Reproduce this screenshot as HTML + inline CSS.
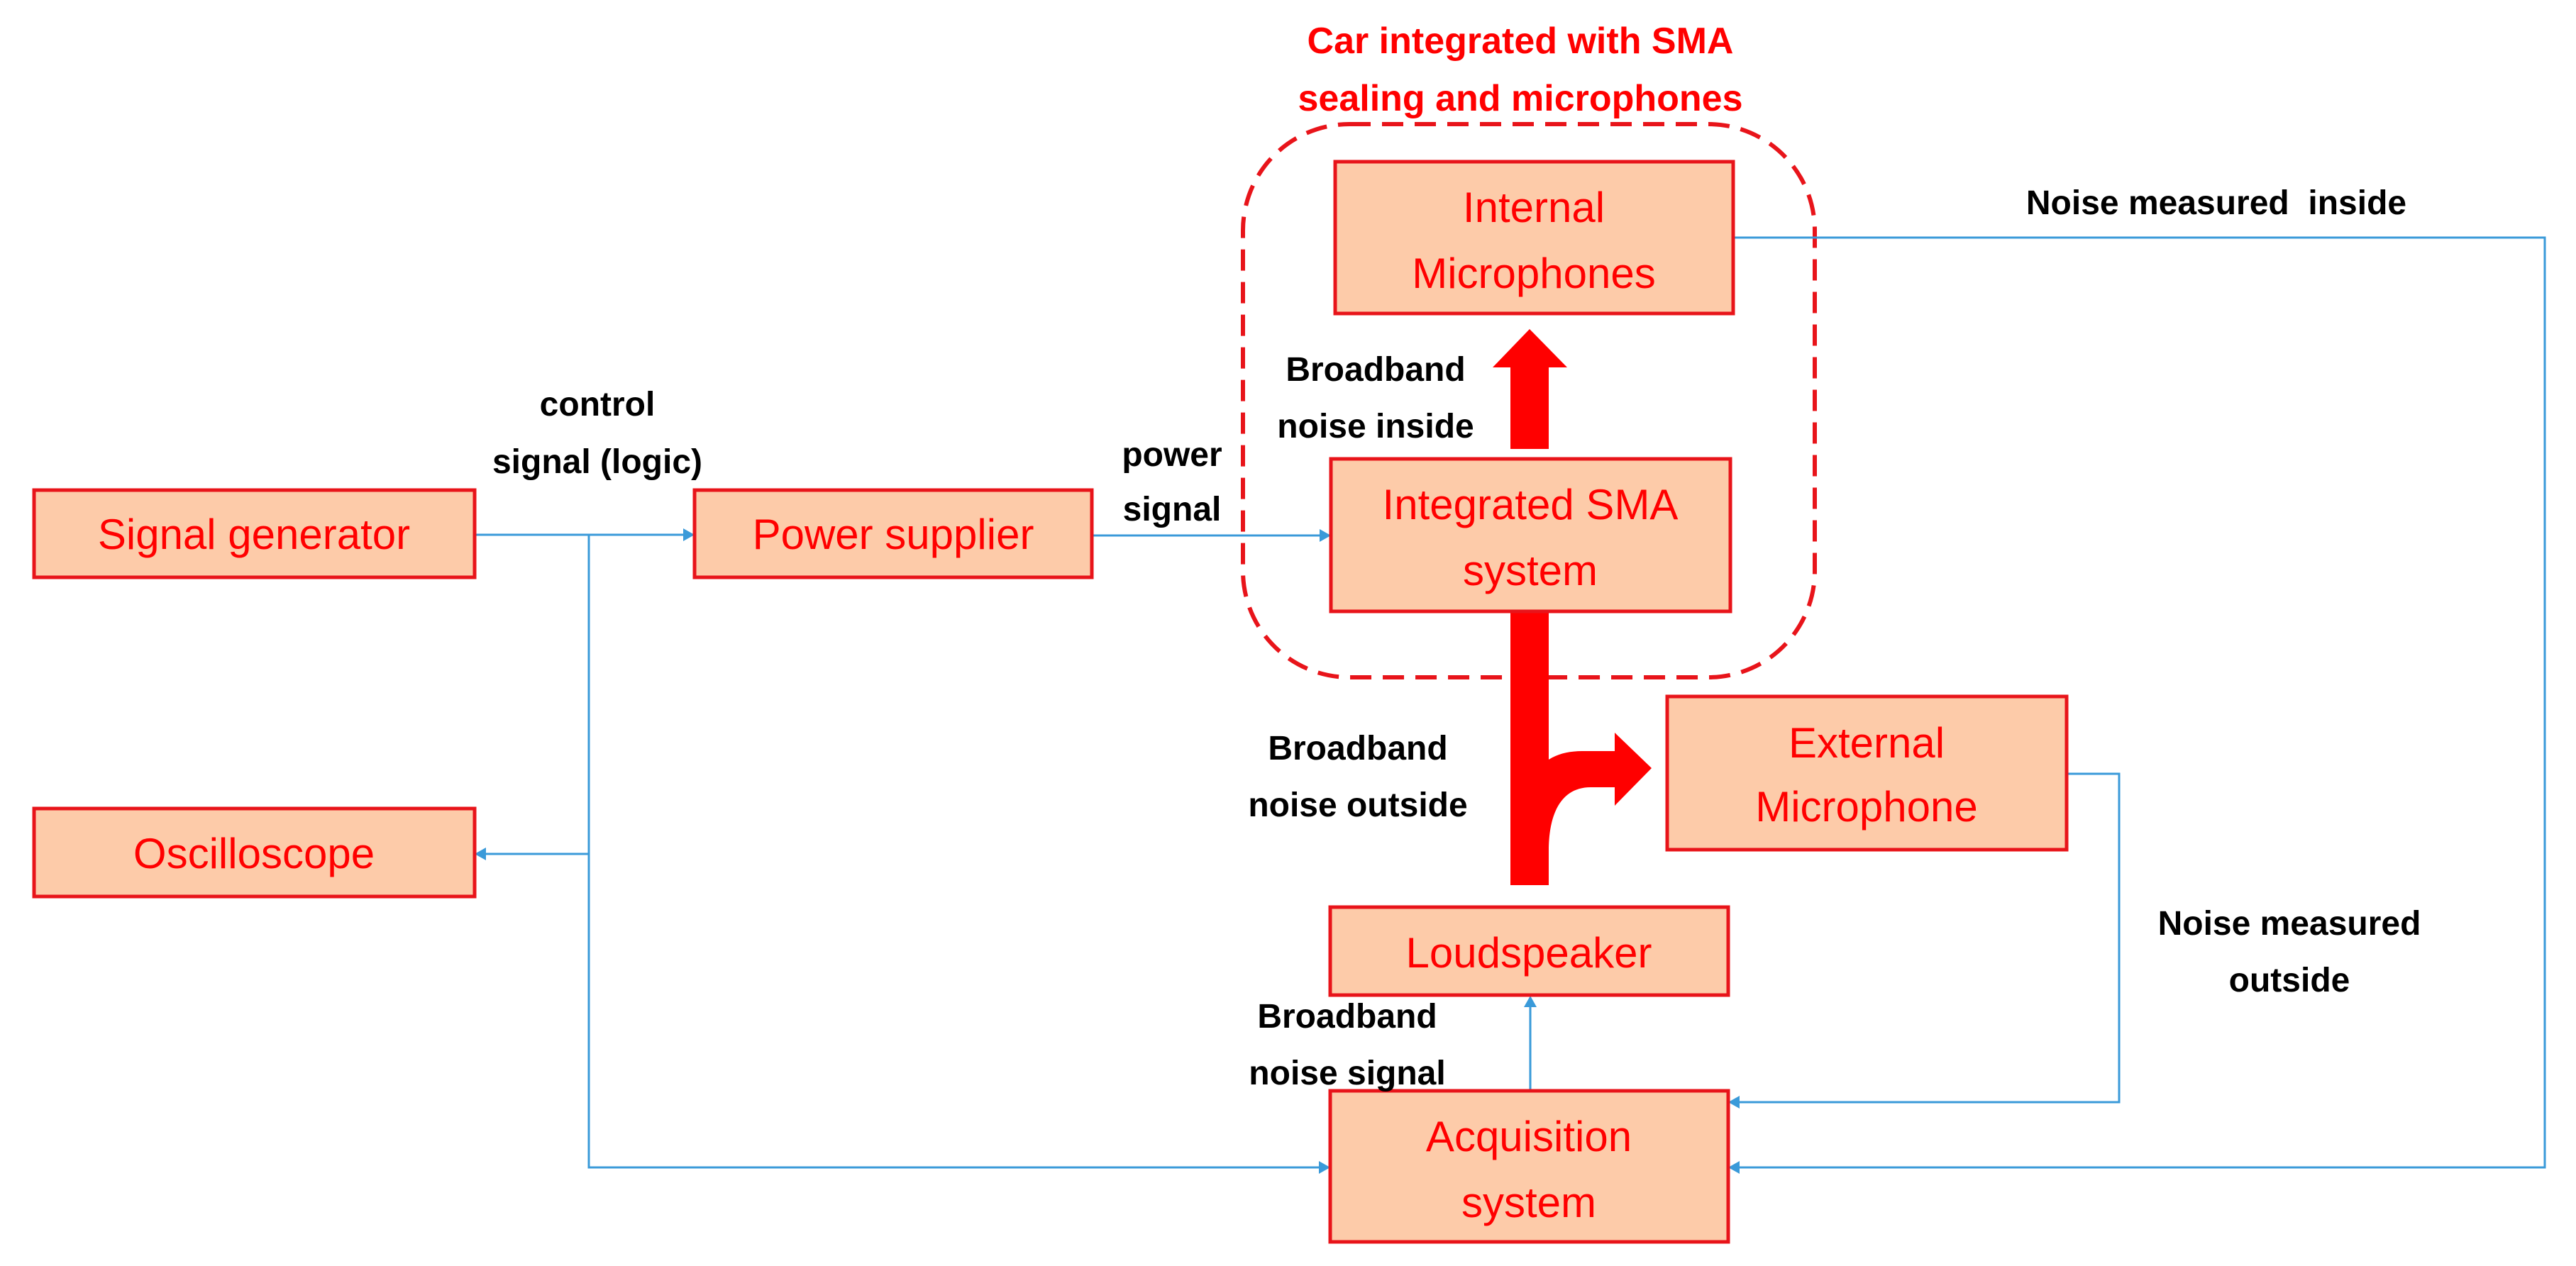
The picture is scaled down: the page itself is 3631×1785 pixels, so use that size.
<!DOCTYPE html>
<html><head><meta charset="utf-8"><style>
html,body{margin:0;padding:0;background:#fff;}
svg{display:block;}
.b{fill:#fdcba9;stroke:#e8141a;stroke-width:5;}
.r{font-family:"Liberation Sans",sans-serif;fill:#f00;font-size:60px;text-anchor:middle;}
.k{font-family:"Liberation Sans",sans-serif;fill:#000;font-size:48px;font-weight:bold;text-anchor:middle;}
.t{font-family:"Liberation Sans",sans-serif;fill:#f00;font-size:52px;font-weight:bold;text-anchor:middle;}
.l{stroke:#3a9ad9;stroke-width:3;fill:none;}
.a{fill:#3a9ad9;}
</style></head><body>
<svg width="3631" height="1785" viewBox="0 0 3631 1785" xmlns="http://www.w3.org/2000/svg">
<!-- title -->
<text class="t" x="2143" y="75">Car integrated with SMA</text>
<text class="t" x="2143" y="156">sealing and microphones</text>
<!-- dashed container -->
<rect x="1752" y="175" width="806" height="780" rx="150" fill="none" stroke="#e8141a" stroke-width="6" stroke-dasharray="30 16"/>

<!-- blue connectors -->
<path class="l" d="M669,754 H965"/>
<polygon class="a" points="979,754 963,745 963,763"/>
<path class="l" d="M830,754 V1646 H1862"/>
<polygon class="a" points="1875,1646 1859,1637 1859,1655"/>
<path class="l" d="M830,1204 H683"/>
<polygon class="a" points="669,1204 685,1195 685,1213"/>
<path class="l" d="M1539,755 H1862"/>
<polygon class="a" points="1876,755 1860,746 1860,764"/>
<path class="l" d="M2443,335 H3587 V1646 H2450"/>
<polygon class="a" points="2436,1646 2452,1637 2452,1655"/>
<path class="l" d="M2913,1091 H2987 V1554 H2450"/>
<polygon class="a" points="2436,1554 2452,1545 2452,1563"/>
<path class="l" d="M2157,1538 V1418"/>
<polygon class="a" points="2157,1404 2148,1420 2166,1420"/>

<!-- big red arrows -->
<polygon fill="#f00" points="2129,633 2129,518 2104,518 2156,464 2209,518 2183,518 2183,633"/>
<rect x="2129" y="860" width="54" height="388" fill="#f00"/>
<path fill="#f00" d="M2140,1190 C2140,1100 2170,1059 2230,1059 L2276,1059 L2276,1033 L2328,1083 L2276,1136 L2276,1110 L2242,1110 C2205,1110 2183,1140 2183,1200 Z"/>

<!-- boxes -->
<rect class="b" x="48" y="691" width="621" height="123"/>
<text class="r" x="358" y="774">Signal generator</text>
<rect class="b" x="979" y="691" width="560" height="123"/>
<text class="r" x="1259" y="774">Power supplier</text>
<rect class="b" x="48" y="1140" width="621" height="124"/>
<text class="r" x="358" y="1224">Oscilloscope</text>
<rect class="b" x="1882" y="228" width="561" height="214"/>
<text class="r" x="2162" y="313">Internal</text>
<text class="r" x="2162" y="406">Microphones</text>
<rect class="b" x="1876" y="647" width="563" height="215"/>
<text class="r" x="2157" y="732">Integrated SMA</text>
<text class="r" x="2157" y="825">system</text>
<rect class="b" x="2350" y="982" width="563" height="216"/>
<text class="r" x="2631" y="1068">External</text>
<text class="r" x="2631" y="1158">Microphone</text>
<rect class="b" x="1875" y="1279" width="561" height="124"/>
<text class="r" x="2155" y="1364">Loudspeaker</text>
<rect class="b" x="1875" y="1538" width="561" height="213"/>
<text class="r" x="2155" y="1623">Acquisition</text>
<text class="r" x="2155" y="1716">system</text>

<!-- black labels -->
<text class="k" x="842" y="586">control</text>
<text class="k" x="842" y="667">signal (logic)</text>
<text class="k" x="1652" y="657">power</text>
<text class="k" x="1652" y="734">signal</text>
<text class="k" x="1939" y="537">Broadband</text>
<text class="k" x="1939" y="617">noise inside</text>
<text class="k" x="3124" y="302">Noise measured&#160; inside</text>
<text class="k" x="1914" y="1071">Broadband</text>
<text class="k" x="1914" y="1151">noise outside</text>
<text class="k" x="3227" y="1318">Noise measured</text>
<text class="k" x="3227" y="1398">outside</text>
<text class="k" x="1899" y="1449">Broadband</text>
<text class="k" x="1899" y="1529">noise signal</text>
</svg>
</body></html>
